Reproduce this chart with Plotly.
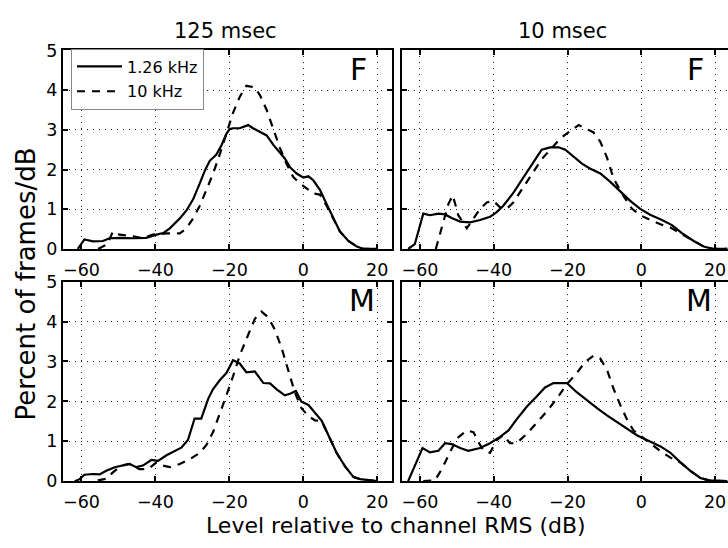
import plotly.graph_objects as go

W, H = 728, 548

# ---------------- data ----------------
x_ticks = [-60, -40, -20, 0, 20]
y_ticks = [0, 1, 2, 3, 4, 5]
col_titles = ["125 msec", "10 msec"]
row_letters = ["F", "M"]
series_names = ["1.26 kHz", "10 kHz"]

# 125 msec, F
f125_low_x = [-61, -59.2, -56.9, -54.2, -52.4, -49.7, -46, -42.5, -39.7, -37.9, -36.1, -33.4, -31.6, -29.8, -28, -26.6, -25.3, -23.5, -22.1, -20.8, -19.9, -19, -17.2, -14.9, -13.6, -11.7, -9.9, -8.1, -6.3, -5, -3.6, -1.8, 0, 1.4, 2.7, 4.5, 6.3, 8.1, 9.9, 12.2, 14.5, 16.3, 19.9]
f125_low_y = [0, 0.24, 0.19, 0.2, 0.27, 0.28, 0.27, 0.28, 0.36, 0.4, 0.52, 0.77, 0.97, 1.25, 1.65, 1.98, 2.22, 2.38, 2.62, 2.9, 3.02, 3.04, 3.04, 3.12, 3.04, 2.94, 2.86, 2.62, 2.42, 2.28, 2.06, 1.9, 1.8, 1.83, 1.73, 1.49, 1.13, 0.77, 0.44, 0.2, 0.06, 0, 0]
f125_high_x = [-55.5, -53, -51.5, -49.7, -46, -43.4, -40.7, -37, -33.4, -31.6, -29.8, -28, -26.2, -24.4, -22.6, -20.8, -19, -17.2, -15.4, -13.1, -11.7, -9.9, -8.1, -6.3, -4.5, -2.7, -0.9, 0.9, 2.7, 4.5, 6.3, 8.1, 9.9, 12.2, 14.5, 16.3, 19.9]
f125_high_y = [0, 0.12, 0.44, 0.36, 0.32, 0.27, 0.36, 0.39, 0.39, 0.52, 0.77, 1.09, 1.49, 1.9, 2.38, 2.9, 3.43, 3.83, 4.11, 4.07, 3.87, 3.5, 3.02, 2.54, 2.14, 1.81, 1.65, 1.53, 1.4, 1.37, 1.09, 0.77, 0.44, 0.2, 0.06, 0, 0]

# 10 msec, F
f10_low_x = [-63.2, -61.4, -59.1, -57.3, -55, -53.2, -51.4, -49.1, -46.4, -43.7, -41, -39.2, -37.4, -34.7, -31.9, -29.2, -27, -24.7, -22.4, -20.6, -18.4, -16.1, -13.8, -11.1, -8.4, -5.7, -3, -0.3, 2.4, 5.6, 8.3, 11, 14.2, 16.9, 19.6, 23.3]
f10_low_y = [0, 0.12, 0.89, 0.85, 0.89, 0.87, 0.78, 0.69, 0.67, 0.73, 0.81, 0.93, 1.09, 1.41, 1.81, 2.18, 2.5, 2.56, 2.56, 2.5, 2.34, 2.15, 2.02, 1.9, 1.69, 1.45, 1.21, 1.01, 0.86, 0.73, 0.6, 0.4, 0.2, 0.06, 0, 0]
f10_high_x = [-55.7, -54.1, -52.3, -51.1, -49.6, -47.3, -46, -43.7, -41.9, -40.1, -38.3, -36.5, -34.7, -31.9, -29.2, -27, -24.3, -22, -19.7, -17, -14.8, -13, -11.1, -9.3, -7.5, -4.8, -2.5, -0.3, 2.4, 5.2, 7.9, 11, 14.2, 16.9, 19.6, 23.3]
f10_high_y = [0, 0.52, 1.13, 1.35, 0.85, 0.52, 0.69, 1.01, 1.17, 1.21, 1.05, 1.01, 1.17, 1.57, 1.98, 2.26, 2.54, 2.78, 2.94, 3.12, 3.02, 2.94, 2.7, 2.3, 1.77, 1.33, 1.01, 0.85, 0.73, 0.62, 0.54, 0.38, 0.2, 0.06, 0, 0]

# 125 msec, M
m125_low_x = [-61.8, -60.5, -59.2, -56.9, -55.1, -53.3, -51, -48.8, -47, -45.2, -43.4, -41.1, -39.3, -37, -34.8, -33, -31.2, -29.4, -27.6, -25.7, -24.4, -22.6, -20.8, -19, -17.2, -15.4, -13.1, -10.8, -9, -7.2, -5, -3.6, -2, -0.5, 1.4, 3.2, 5, 6.8, 9, 11.3, 13.6, 15.4, 19.9]
m125_low_y = [0, 0.05, 0.16, 0.18, 0.17, 0.26, 0.35, 0.39, 0.43, 0.35, 0.39, 0.53, 0.51, 0.65, 0.75, 0.84, 1.03, 1.57, 1.57, 2.07, 2.31, 2.53, 2.71, 3.03, 2.95, 2.73, 2.75, 2.46, 2.45, 2.3, 2.15, 2.19, 2.26, 1.99, 1.91, 1.71, 1.51, 1.15, 0.71, 0.37, 0.1, 0.05, 0]
m125_high_x = [-55.6, -53.3, -51.5, -49.2, -47, -44.3, -42, -39.7, -37.9, -36.1, -33.4, -30.7, -28, -26.2, -24.4, -22.6, -20.8, -19, -17.2, -14.9, -13.1, -11.3, -9.5, -7.7, -5.9, -4.1, -2.3, -0.5, 1.4, 3.2, 5, 6.8, 9, 11.3, 13.6, 15.4, 19.9]
m125_high_y = [0.02, 0.06, 0.22, 0.39, 0.43, 0.3, 0.3, 0.47, 0.39, 0.35, 0.43, 0.55, 0.71, 0.91, 1.23, 1.67, 2.15, 2.63, 3.15, 3.67, 4.07, 4.25, 4.11, 3.8, 3.35, 2.79, 2.23, 1.83, 1.63, 1.52, 1.51, 1.15, 0.71, 0.37, 0.1, 0.05, 0]

# 10 msec, M
m10_low_x = [-63.2, -61.4, -59.3, -57.3, -55, -53.2, -51.4, -49.1, -46.9, -43.7, -41, -38.3, -36, -33.8, -31, -28.3, -26.1, -23.8, -20.2, -17.5, -14.8, -12, -9.3, -6.6, -3.9, -1.2, 1.5, 5.2, 7.9, 10.6, 13.3, 16, 18.3, 23.3]
m10_low_y = [0, 0.39, 0.83, 0.72, 0.76, 0.95, 0.93, 0.83, 0.76, 0.83, 0.95, 1.11, 1.27, 1.55, 1.87, 2.13, 2.35, 2.46, 2.46, 2.23, 2.03, 1.83, 1.65, 1.49, 1.31, 1.15, 1.03, 0.87, 0.71, 0.47, 0.26, 0.08, 0.02, 0]
m10_high_x = [-59.1, -55.9, -54.1, -51.9, -50, -47.3, -45.5, -44.2, -42.8, -41, -39.2, -37.4, -35.6, -33.8, -31, -28.3, -25.6, -22.9, -20.2, -17.5, -15.2, -12.9, -11.1, -9.3, -7.5, -5.7, -3.9, -2.1, 0.2, 2.4, 5.2, 7.9, 10.6, 13.3, 16, 18.3, 23.3]
m10_high_y = [0, 0.02, 0.3, 0.71, 1.07, 1.27, 1.23, 0.99, 0.77, 0.71, 1.03, 1.15, 0.95, 0.95, 1.19, 1.47, 1.75, 2.07, 2.43, 2.71, 2.99, 3.15, 3.07, 2.79, 2.31, 1.91, 1.55, 1.27, 1.11, 0.95, 0.75, 0.59, 0.47, 0.26, 0.08, 0.02, 0]

panels = [
    ("", f125_low_x, f125_low_y, f125_high_x, f125_high_y),
    ("2", f10_low_x, f10_low_y, f10_high_x, f10_high_y),
    ("3", m125_low_x, m125_low_y, m125_high_x, m125_high_y),
    ("4", m10_low_x, m10_low_y, m10_high_x, m10_high_y),
]

FONT = "DejaVu Sans"
fig = go.Figure()

for i, (s, lx, ly, hx, hy) in enumerate(panels):
    fig.add_trace(go.Scatter(
        x=lx, y=ly, mode="lines", name=series_names[0],
        line=dict(color="black", width=2.2),
        xaxis="x" + s, yaxis="y" + s,
        showlegend=(i == 0), legendgroup="a"))
    fig.add_trace(go.Scatter(
        x=hx, y=hy, mode="lines", name=series_names[1],
        line=dict(color="black", width=2.2, dash="8px,7px"),
        xaxis="x" + s, yaxis="y" + s,
        showlegend=(i == 0), legendgroup="b"))

# pixel-based domains (margins are zero, so paper == image)
xdom_left = [63 / W, 392 / W]
xdom_right = [401.5 / W, 1.0]
ydom_top = [1 - 248 / H, 1 - 42 / H]
ydom_bot = [1 - 489 / H, 1 - 282 / H]

grid = dict(showgrid=True, gridcolor="#222", gridwidth=1, griddash="1px,5px",
            zeroline=False, ticks="inside", ticklen=5, tickwidth=1.5,
            tickcolor="black", showline=True, linecolor="black", linewidth=2,
            tickfont=dict(family=FONT, size=17.5, color="black"))

def xax(dom, anchor, rng):
    d = dict(grid)
    d.update(domain=dom, anchor=anchor, range=rng, tickvals=x_ticks,
             mirror="allticks", ticklabelstandoff=4)
    return d

def yax(dom, anchor, labels, mirror):
    d = dict(grid)
    d.update(domain=dom, anchor=anchor, range=[0, 5], tickvals=y_ticks,
             showticklabels=labels, mirror=mirror)
    return d

fig.update_layout(
    width=W, height=H,
    margin=dict(l=0, r=0, t=0, b=0),
    paper_bgcolor="white", plot_bgcolor="white",
    font=dict(family=FONT, color="black"),
    xaxis=xax(xdom_left, "y", [-65, 24]),
    yaxis=yax(ydom_top, "x", True, "allticks"),
    xaxis2=xax(xdom_right, "y2", [-65, 23.5]),
    yaxis2=yax(ydom_top, "x2", False, False),
    xaxis3=xax(xdom_left, "y3", [-65, 24]),
    yaxis3=yax(ydom_bot, "x3", True, "allticks"),
    xaxis4=xax(xdom_right, "y4", [-65, 23.5]),
    yaxis4=yax(ydom_bot, "x4", False, False),
    legend=dict(x=71 / W, y=1 - 40 / H, xanchor="left", yanchor="top",
                bgcolor="white", bordercolor="#888", borderwidth=1,
                font=dict(family=FONT, size=16, color="black"),
                itemwidth=45, tracegroupgap=1, traceorder="grouped"),
    showlegend=True,
)

ann = []
ann.append(dict(x=225 / W, y=1 - 22 / H, text=col_titles[0]))
ann.append(dict(x=562 / W, y=1 - 22 / H, text=col_titles[1]))
for a in ann:
    a.update(xref="paper", yref="paper", showarrow=False,
             font=dict(family=FONT, size=21, color="black"),
             xanchor="center", yanchor="middle")
for (px, py, t) in [(358, 62, row_letters[0]), (695, 62, row_letters[0]),
                    (362, 302, row_letters[1]), (699, 302, row_letters[1])]:
    ann.append(dict(x=px / W, y=1 - py / H, text=t, xref="paper", yref="paper",
                    showarrow=False, xanchor="center", yanchor="middle",
                    font=dict(family=FONT, size=30, color="black")))
ann.append(dict(x=396 / W, y=1 - 535 / H, text="Level relative to channel RMS (dB)",
                xref="paper", yref="paper", showarrow=False,
                xanchor="center", yanchor="middle",
                font=dict(family=FONT, size=22, color="black")))
ann.append(dict(x=26 / W, y=1 - 285 / H, text="Percent of frames/dB",
                xref="paper", yref="paper", showarrow=False, textangle=-90,
                xanchor="center", yanchor="middle",
                font=dict(family=FONT, size=26, color="black")))
fig.update_layout(annotations=ann)

fig.write_html("out.html",
               config={"displayModeBar": False},
               post_script="document.body.style.margin='0';document.body.style.overflow='hidden';")
